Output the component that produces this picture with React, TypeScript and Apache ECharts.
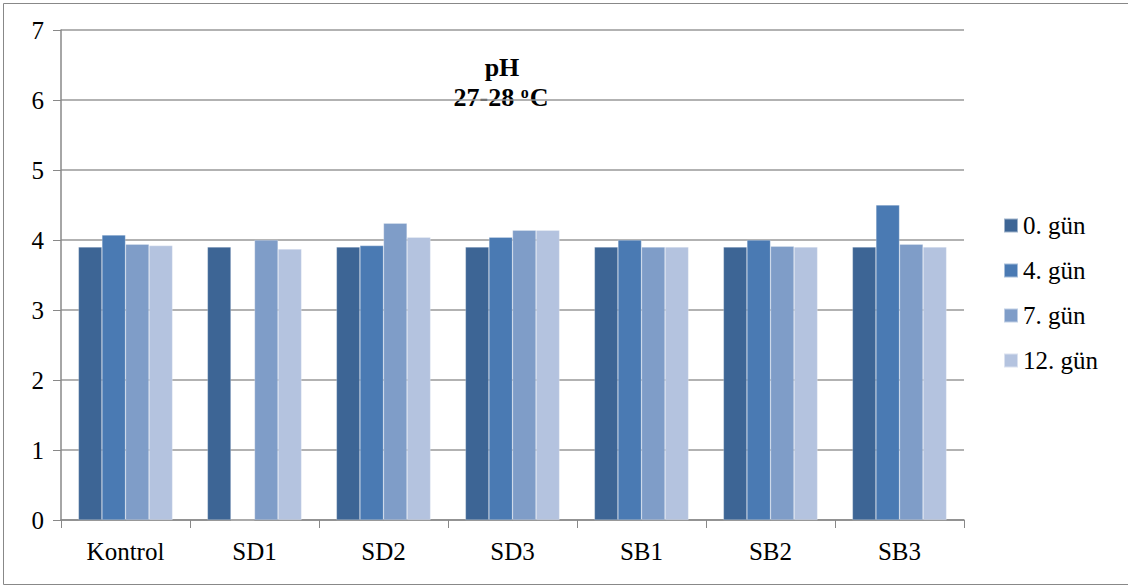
import React, { useEffect, useRef } from "react";
import * as echarts from "echarts";

const categories = ["Kontrol", "SD1", "SD2", "SD3", "SB1", "SB2", "SB3"];
const seriesNames = ["0. gün", "4. gün", "7. gün", "12. gün"];
const day0 = [3.9, 3.9, 3.9, 3.9, 3.9, 3.9, 3.9];
const day4 = [4.07, 0, 3.92, 4.04, 4.0, 4.0, 4.5];
const day7 = [3.94, 4.0, 4.24, 4.14, 3.9, 3.91, 3.94];
const day12 = [3.92, 3.87, 4.04, 4.14, 3.9, 3.9, 3.9];
const colors = ["#3D6595", "#4A7AB3", "#7F9DC8", "#B4C3DF"];

export default function App() {
  const ref = useRef<HTMLDivElement>(null);
  useEffect(() => {
    document.body.style.margin = "0";
    const chart = echarts.init(ref.current!, null, { renderer: "svg" });
    const font = "Liberation Serif";
    const data = [day0, day4, day7, day12];
    chart.setOption({
      animation: false,
      textStyle: { fontFamily: font },
      grid: { left: 61, right: 164, top: 30, bottom: 65 },
      legend: {
        orient: "vertical",
        left: 998,
        top: 208,
        itemWidth: 14,
        itemHeight: 14,
        itemGap: 20,
        icon: "rect",
        textStyle: { fontFamily: font, fontSize: 25, color: "#000", lineHeight: 25 },
        data: seriesNames,
      },
      graphic: [
        {
          type: "rect",
          left: 1,
          top: 1,
          shape: { width: 1125, height: 581 },
          style: { fill: "none", stroke: "#888", lineWidth: 1 },
          silent: true,
        },
        {
          type: "text",
          x: 502,
          y: 67,
          style: {
            text: "pH",
            fontFamily: font,
            fontWeight: "bold",
            fontSize: 26,
            fill: "#000",
            align: "center",
            verticalAlign: "middle",
          },
        },
        {
          type: "text",
          x: 501,
          y: 97,
          style: {
            text: "{a|27-28 }{s|o}{a|C}",
            align: "center",
            verticalAlign: "middle",
            rich: {
              a: { fontFamily: font, fontWeight: "bold", fontSize: 26, color: "#000" },
              s: {
                fontFamily: font,
                fontWeight: "bold",
                fontSize: 16,
                color: "#000",
                verticalAlign: "top",
                padding: [0, 1, 10, 0],
              },
            },
          },
        },
      ],
      xAxis: {
        type: "category",
        data: categories,
        axisLine: { lineStyle: { color: "#888", width: 1.5 } },
        axisTick: { show: true, length: 8, lineStyle: { color: "#888" } },
        axisLabel: { fontFamily: font, fontSize: 25, color: "#000", margin: 19 },
      },
      yAxis: {
        type: "value",
        min: 0,
        max: 7,
        interval: 1,
        axisLine: { show: true, lineStyle: { color: "#888", width: 1.5 } },
        axisTick: { show: true, length: 8, lineStyle: { color: "#888" } },
        splitLine: { lineStyle: { color: "#999", width: 1.5 } },
        axisLabel: { fontFamily: font, fontSize: 25, color: "#000", margin: 17 },
      },
      series: seriesNames.map((name, i) => ({
        name,
        type: "bar",
        data: data[i],
        barGap: "0%",
        barCategoryGap: "27%",
        itemStyle: { color: colors[i], borderColor: "rgba(255,255,255,0.5)", borderWidth: 0.5 },
      })),
    });
    return () => chart.dispose();
  }, []);
  return <div ref={ref} style={{ width: 1128, height: 585 }} />;
}
